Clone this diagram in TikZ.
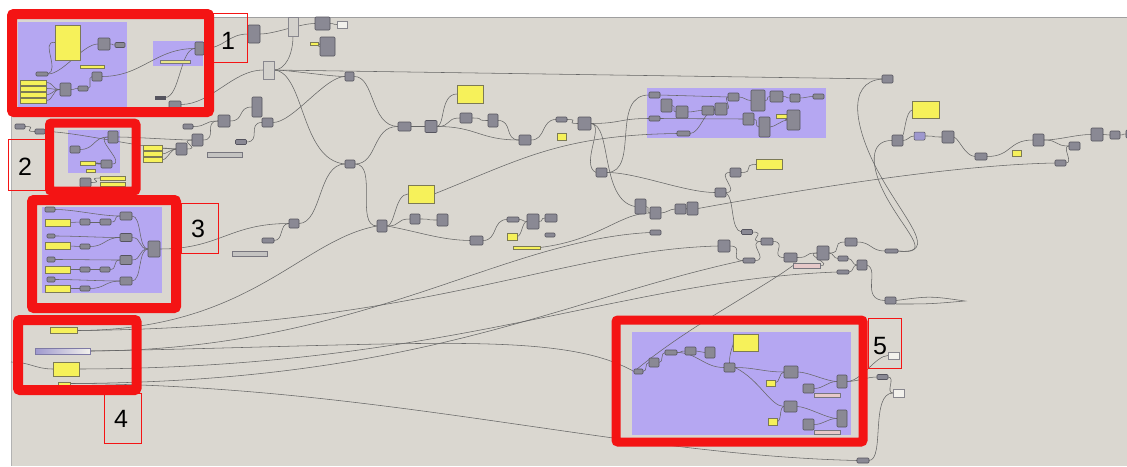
\documentclass[tikz,border=0pt]{standalone}
\usepackage{fontspec}
\setmainfont{Liberation Sans}
\definecolor{canvasc}{HTML}{DAD7D0}
\definecolor{grpc}{HTML}{B5A7F2}
\definecolor{compf}{HTML}{8A8994}
\definecolor{compd}{HTML}{55545E}
\definecolor{yf}{HTML}{F6F15A}
\definecolor{yd}{HTML}{7C7A55}
\definecolor{palef}{HTML}{D3D1CC}
\definecolor{whitef}{HTML}{F2F1EC}
\definecolor{lavf}{HTML}{9E98CE}
\definecolor{pinkf}{HTML}{E6C9C9}
\definecolor{wirec}{HTML}{666666}
\definecolor{redc}{HTML}{F41414}
\pgfdeclarelayer{bg}
\pgfdeclarelayer{wires}
\pgfsetlayers{bg,wires,main}
\newcommand{\GHnode}[6]{\node[#1,minimum width=#5pt,minimum height=#6pt] (#2) at (#3,#4) {};}
\newcommand{\GHwire}[3][15]{\draw[wire] (#2.east) .. controls +(#1,0) and +(-#1,0) .. (#3.west);}
\begin{document}
\begin{tikzpicture}[x=1pt,y=-1pt,
  comp/.style={draw=compd, fill=compf, line width=0.6pt, rounded corners=1pt, inner sep=0pt, outer sep=0pt},
  ynode/.style={draw=yd, fill=yf, line width=0.5pt, inner sep=0pt, outer sep=0pt},
  pale/.style={draw=compd!70, fill=palef, line width=0.5pt, inner sep=0pt, outer sep=0pt},
  whitebox/.style={draw=compd!70, fill=whitef, line width=0.5pt, inner sep=0pt, outer sep=0pt},
  lav/.style={draw=compd, fill=lavf, line width=0.5pt, rounded corners=1pt, inner sep=0pt, outer sep=0pt},
  pinkbar/.style={draw=compd!80, fill=pinkf, line width=0.5pt, inner sep=0pt, outer sep=0pt},
  graybar/.style={draw=compd!80, fill=palef!80!compf, line width=0.5pt, inner sep=0pt, outer sep=0pt},
  lavbar/.style={draw=lavf!80!black, left color=lavf, right color=whitef, line width=0.5pt, inner sep=0pt, outer sep=0pt},
  darkbar/.style={draw=compd, fill=compd, inner sep=0pt, outer sep=0pt},
  paley/.style={draw=compd!80, fill=yf!60!palef, line width=0.5pt, inner sep=0pt, outer sep=0pt},
  wire/.style={draw=wirec, line width=0.55pt},
  redbox/.style={draw=redc, line width=10pt, rounded corners=2pt},
  lblbox/.style={draw=redc, line width=0.8pt},
  lbltext/.style={text=black, inner sep=0pt, font=\fontsize{25}{25}\selectfont}
]
\useasboundingbox (0,0) rectangle (1127,466);
\begin{pgfonlayer}{bg}
\fill[white] (0,0) rectangle (1127,466);
\fill[canvasc] (11,17) rectangle (1127,466);
\draw[gray!75, line width=0.9pt] (11,17) -- (1127,17);
\draw[gray!60, line width=0.7pt] (11,17) -- (11,466);
\fill[grpc] (18,22) rectangle (127,107);
\fill[grpc] (153,41) rectangle (203,66);
\fill[grpc] (68,130) rectangle (120,173);
\fill[grpc] (42,207) rectangle (162,293);
\fill[grpc] (647,88) rectangle (826,138);
\fill[grpc] (632,332) rectangle (851,435);
\end{pgfonlayer}

% ---------- box 1 ----------
\GHnode{ynode}{a1}{67.5}{42.5}{25}{35}
\GHnode{comp}{a2}{104}{44}{12}{12}
\GHnode{comp}{a3}{120}{45}{10}{5}
\GHnode{ynode}{a4}{92}{66.5}{24}{3}
\GHnode{comp}{a5}{97}{76.5}{10}{9}
\GHnode{comp}{a6}{65.5}{89.5}{11}{13}
\GHnode{comp}{a7}{83}{88.5}{10}{5}
\GHnode{comp}{a8}{42}{74}{12}{4}
\GHnode{ynode}{a9}{33}{82.5}{26}{4.5}
\GHnode{ynode}{a10}{33}{88.5}{26}{4.5}
\GHnode{ynode}{a11}{33}{94.5}{26}{4.5}
\GHnode{ynode}{a12}{33}{100.5}{26}{4.5}
\GHnode{comp}{a13}{199.5}{48.5}{9}{13}
\GHnode{paley}{a14}{175}{61.5}{30}{3}
\GHnode{comp}{a15}{175}{104.5}{12}{7}
\GHnode{darkbar}{a16}{160}{97.5}{10}{3}

% ---------- top ----------
\GHnode{comp}{t1}{254}{34}{12}{18}
\GHnode{pale}{t2}{293}{26.5}{10}{19}
\GHnode{comp}{t3}{322.5}{23.5}{15}{13}
\GHnode{whitebox}{t4}{342}{24.5}{10}{7}
\GHnode{ynode}{t5}{314}{43.5}{8}{3}
\GHnode{comp}{t6}{327.5}{46.5}{15}{19}
\GHnode{pale}{t7}{268.5}{70}{11}{18}
\GHnode{comp}{t8}{349.5}{76.5}{9}{9}
\GHnode{comp}{t9}{887.5}{79}{11}{8}
\GHnode{comp}{t10}{257}{107}{10}{20}
\GHnode{comp}{t11}{267.5}{122.5}{11}{9}
\GHnode{comp}{t12}{224}{121}{12}{12}
\GHnode{comp}{t13}{197.5}{140}{11}{12}
\GHnode{comp}{t14}{181.5}{149}{11}{12}
\GHnode{ynode}{t15}{152.5}{148}{19}{5}
\GHnode{ynode}{t16}{152.5}{154}{19}{5}
\GHnode{ynode}{t17}{152.5}{160}{19}{5}
\GHnode{comp}{t18}{241}{142}{11}{5}
\GHnode{graybar}{t19}{224.5}{155}{35}{5}
\GHnode{comp}{t20}{188}{126.5}{10}{5}
\GHnode{comp}{t21}{350}{164}{10}{8}
\GHnode{comp}{t22}{20}{126.5}{10}{5}
\GHnode{comp}{t23}{40}{131.5}{10}{5}

% ---------- box 2 ----------
\GHnode{comp}{b1}{113}{137}{10}{12}
\GHnode{comp}{b2}{75}{149.5}{10}{7}
\GHnode{ynode}{b3}{87.5}{163}{15}{4}
\GHnode{ynode}{b4}{90.5}{170.5}{9}{3}
\GHnode{comp}{b5}{106.5}{164}{11}{8}
\GHnode{comp}{b6}{85.5}{182.5}{11}{9}
\GHnode{ynode}{b7}{112.5}{178}{25}{4}
\GHnode{ynode}{b8}{112.5}{184}{25}{4}

% ---------- box 3 ----------
\GHnode{comp}{c1}{50}{209.5}{10}{5}
\GHnode{ynode}{c2}{57.5}{222.5}{25}{7}
\GHnode{comp}{c3}{85}{222}{10}{6}
\GHnode{comp}{c4}{105.5}{222}{11}{6}
\GHnode{comp}{c5}{126}{216}{12}{8}
\GHnode{comp}{c6}{51}{236}{8}{4}
\GHnode{ynode}{c7}{57.5}{246}{25}{7}
\GHnode{comp}{c8}{85}{246.5}{10}{5}
\GHnode{comp}{c9}{126}{237.5}{12}{8}
\GHnode{comp}{c10}{154}{249}{12}{16}
\GHnode{comp}{c11}{51}{259.5}{8}{5}
\GHnode{ynode}{c12}{57.5}{269.5}{25}{7}
\GHnode{comp}{c13}{85}{269.5}{10}{5}
\GHnode{comp}{c14}{105}{269.5}{10}{5}
\GHnode{comp}{c15}{126}{260}{12}{9}
\GHnode{comp}{c16}{51}{279.5}{8}{5}
\GHnode{ynode}{c17}{57.5}{288.5}{25}{7}
\GHnode{comp}{c18}{85}{288.5}{10}{5}
\GHnode{comp}{c19}{126}{281}{12}{8}
\GHnode{comp}{c20}{294}{223.5}{10}{9}
\GHnode{comp}{c21}{268}{240.5}{12}{5}
\GHnode{graybar}{c22}{249.5}{254}{35}{5}

% ---------- box 4 ----------
\GHnode{ynode}{d1}{63.5}{330.5}{27}{6}
\GHnode{lavbar}{d2}{62.5}{351}{55}{6}
\GHnode{ynode}{d3}{66}{369}{26}{14}
\GHnode{ynode}{d4}{64}{383.5}{12}{3}

% ---------- middle ----------
\GHnode{comp}{m1}{404.5}{126.5}{13}{9}
\GHnode{comp}{m2}{431}{126.5}{12}{12}
\GHnode{ynode}{m3}{470}{94}{26}{18}
\GHnode{comp}{m4}{466}{118}{12}{10}
\GHnode{comp}{m5}{493}{120.5}{10}{13}
\GHnode{comp}{m6}{525}{140}{12}{10}
\GHnode{comp}{m7}{561.5}{119.5}{11}{5}
\GHnode{ynode}{m8}{561.5}{136.5}{9}{7}
\GHnode{comp}{m9}{584.5}{123.5}{13}{13}
\GHnode{comp}{p1}{654.5}{95}{11}{6}
\GHnode{comp}{p2}{666.5}{105.5}{11}{13}
\GHnode{comp}{p3}{682}{112}{12}{12}
\GHnode{comp}{p4}{708}{110.5}{12}{9}
\GHnode{comp}{p5}{721}{109}{12}{12}
\GHnode{comp}{p6}{733.5}{97}{11}{8}
\GHnode{comp}{p7}{758}{100.5}{14}{21}
\GHnode{comp}{p8}{776.5}{96.5}{13}{11}
\GHnode{comp}{p9}{795}{98}{10}{8}
\GHnode{comp}{p10}{818.5}{96.5}{11}{5}
\GHnode{comp}{p11}{748.5}{119}{11}{12}
\GHnode{comp}{p12}{764.5}{127}{11}{20}
\GHnode{ynode}{p13}{782}{116.5}{12}{4}
\GHnode{comp}{p14}{793.5}{120}{13}{20}
\GHnode{comp}{p15}{654.5}{118.5}{11}{5}
\GHnode{comp}{p16}{683.5}{133.5}{13}{5}
\GHnode{comp}{n1}{601.5}{172.5}{11}{9}
\GHnode{comp}{n2}{640.5}{206.5}{11}{15}
\GHnode{comp}{n3}{655.5}{213}{11}{12}
\GHnode{comp}{n4}{680.5}{209}{11}{10}
\GHnode{comp}{n5}{692.5}{208.5}{11}{13}
\GHnode{comp}{n6}{655.5}{232.5}{11}{5}
\GHnode{comp}{n7}{720.5}{192.5}{11}{9}
\GHnode{comp}{n8}{735.5}{172.5}{11}{9}
\GHnode{ynode}{n9}{769}{164.5}{26}{10}
\GHnode{comp}{n10}{747}{232}{11}{5}

% ---------- lower middle ----------
\GHnode{comp}{l1}{382}{226}{10}{12}
\GHnode{ynode}{l2}{421}{194}{26}{18}
\GHnode{comp}{l3}{415}{219}{10}{10}
\GHnode{comp}{l4}{442.5}{220}{11}{12}
\GHnode{comp}{l5}{476.5}{240.5}{13}{9}
\GHnode{comp}{l6}{513}{219.5}{12}{5}
\GHnode{comp}{l7}{533}{221.5}{12}{15}
\GHnode{comp}{l8}{551}{218}{12}{8}
\GHnode{comp}{l9}{550}{235}{10}{4}
\GHnode{ynode}{l10}{512}{236.5}{10}{7}
\GHnode{ynode}{l11}{526.5}{247.5}{27}{3}

% ---------- lower right ----------
\GHnode{comp}{r1}{724}{246}{12}{12}
\GHnode{comp}{r2}{749}{260.5}{12}{5}
\GHnode{comp}{r3}{767}{241.5}{12}{7}
\GHnode{comp}{r4}{790.5}{257.5}{13}{9}
\GHnode{pinkbar}{r5}{806.5}{265.5}{27}{5}
\GHnode{comp}{r6}{823}{253}{12}{14}
\GHnode{comp}{r7}{851}{242}{12}{8}
\GHnode{comp}{r8}{843}{258.5}{10}{5}
\GHnode{comp}{r9}{862}{265}{10}{10}
\GHnode{comp}{r10}{843}{272}{12}{4}
\GHnode{comp}{r11}{891.5}{251}{13}{4}
\GHnode{comp}{r12}{890.5}{300.5}{11}{7}

% ---------- right ----------
\GHnode{ynode}{q0}{925.5}{110}{27}{17}
\GHnode{comp}{q1}{897.5}{140.5}{11}{11}
\GHnode{lav}{q2}{919.5}{136}{11}{8}
\GHnode{comp}{q3}{948}{137}{12}{12}
\GHnode{comp}{q4}{981}{156.5}{12}{7}
\GHnode{ynode}{q5}{1016.5}{153.5}{9}{6}
\GHnode{comp}{q6}{1038.5}{140}{11}{12}
\GHnode{comp}{q7}{1074.5}{146}{11}{8}
\GHnode{comp}{q8}{1097}{134.5}{12}{13}
\GHnode{comp}{q9}{1115}{135}{10}{8}
\GHnode{comp}{q10}{1060.5}{163}{11}{6}
\GHnode{comp}{q11}{1130}{134}{8}{8}

% ---------- box 5 ----------
\GHnode{comp}{f1}{638.5}{371.5}{9}{5}
\GHnode{comp}{f2}{654}{362.5}{10}{9}
\GHnode{comp}{f3}{671}{352.5}{12}{5}
\GHnode{comp}{f4}{690.5}{351}{11}{8}
\GHnode{comp}{f5}{710}{352.5}{10}{11}
\GHnode{ynode}{f6}{745.5}{342.5}{25}{17}
\GHnode{comp}{f7}{729.5}{367.5}{11}{9}
\GHnode{comp}{f8}{791}{372}{14}{12}
\GHnode{ynode}{f9}{770.5}{383}{9}{6}
\GHnode{comp}{f10}{808.5}{388.5}{11}{9}
\GHnode{pinkbar}{f11}{827}{395}{26}{4}
\GHnode{comp}{f12}{842}{381.5}{10}{13}
\GHnode{comp}{f13}{790.5}{406.5}{13}{11}
\GHnode{ynode}{f14}{772.5}{421.5}{9}{7}
\GHnode{comp}{f15}{808.5}{424.5}{11}{11}
\GHnode{pinkbar}{f16}{827}{432}{26}{4}
\GHnode{comp}{f17}{842}{418.5}{10}{17}
\GHnode{whitebox}{o1}{893.5}{355.5}{11}{7}
\GHnode{comp}{o2}{882.5}{377}{11}{5}
\GHnode{whitebox}{o3}{898.5}{393}{11}{8}
\GHnode{comp}{o4}{863}{460.5}{12}{5}

\coordinate (e1) at (11,362);
\coordinate (sp) at (965,301);

\begin{pgfonlayer}{wires}
% box 1
\GHwire{a8}{a2}
\draw[wire] (a8.east) .. controls (60,70) and (40,40) .. (a1.west);
\GHwire[8]{a9}{a6} \GHwire[8]{a10}{a6} \GHwire[8]{a11}{a6} \GHwire[8]{a12}{a6}
\GHwire[5]{a6}{a7} \GHwire[5]{a7}{a5} \GHwire[40]{a5}{a13}
\GHwire[5]{a2}{a3} \GHwire[15]{a16}{a13} \GHwire[20]{a13}{t1}
\GHwire[30]{a15}{t7}
% top
\GHwire{t1}{t3} \GHwire[5]{t3}{t4} \GHwire[5]{t5}{t6}
\draw[wire] (t2.south) .. controls (293,55) and (285,70) .. (t7.east);
\draw[wire] (t7.east) -- (t9.west);
\GHwire{t7}{t8}
% loops
\draw[wire] (t7.east) .. controls (305,72) and (300,160) .. (t21.west);
\draw[wire] (t8.east) .. controls (375,76) and (370,126) .. (m1.west);
\draw[wire] (t21.east) .. controls (378,164) and (372,126) .. (m1.west);
\draw[wire] (c20.east) .. controls (322,223) and (318,164) .. (t21.west);
\draw[wire] (t21.east) .. controls (378,164) and (355,226) .. (l1.west);
\GHwire{t12}{t10} \GHwire[20]{t11}{t8} \GHwire{t20}{t12}
\GHwire{t14}{t13} \GHwire[5]{t15}{t14} \GHwire[5]{t16}{t14} \GHwire[5]{t17}{t14}
\GHwire{t22}{t23} \GHwire[30]{t23}{t14} \GHwire{b1}{t13} \GHwire{t13}{t12}
\GHwire{t18}{t11}
% box 2
\GHwire{b2}{b1} \GHwire{b3}{b5} \GHwire{b5}{b1} \GHwire{b6}{b7}
% box 3
\GHwire[20]{c1}{c5} \GHwire[5]{c2}{c3} \GHwire[5]{c3}{c4} \GHwire[8]{c4}{c5}
\GHwire[20]{c6}{c9} \GHwire[5]{c7}{c8} \GHwire[15]{c8}{c9}
\GHwire[20]{c11}{c15} \GHwire[5]{c12}{c13} \GHwire[5]{c13}{c14} \GHwire[8]{c14}{c15}
\GHwire[20]{c16}{c19} \GHwire[5]{c17}{c18} \GHwire[15]{c18}{c19}
\GHwire[10]{c5}{c10} \GHwire[10]{c9}{c10} \GHwire[10]{c15}{c10} \GHwire[10]{c19}{c10}
\GHwire[60]{c10}{c20} \GHwire[10]{c21}{c20}
% box 4 fan
\draw[wire] (d1.east) .. controls (250,330) and (300,240) .. (l1.west);
\draw[wire] (d1.east) .. controls (420,328) and (560,250) .. (r1.west);
\draw[wire] (d2.east) .. controls (360,350) and (500,240) .. (n6.west);
\draw[wire] (d2.east) .. controls (420,345) and (560,330) .. (f1.west);
\draw[wire] (d3.east) .. controls (450,368) and (620,280) .. (r10.west);
\draw[wire] (d4.east) .. controls (380,385) and (620,455) .. (o4.west);
\draw[wire] (d4.east) .. controls (420,382) and (560,300) .. (r2.west);
\draw[wire] (e1) .. controls (30,362) and (35,369) .. (d3.west);
% middle
\GHwire{m1}{m2} \GHwire{m2}{m4}
\draw[wire] (m2.east) .. controls (445,126) and (440,94) .. (m3.west);
\GHwire{m4}{m5} \GHwire[40]{m2}{m6} \GHwire{m5}{m6} \GHwire{m6}{m7} \GHwire{m7}{m9}
\GHwire[30]{m9}{p15}
\draw[wire] (m9.east) .. controls (612,124) and (600,200) .. (n2.west);
\draw[wire] (m9.east) .. controls (605,125) and (580,165) .. (n1.west);
\draw[wire] (n1.east) .. controls (640,172) and (610,95) .. (p1.west);
\draw[wire] (l2.east) .. controls (520,160) and (560,135) .. (p16.west);
\draw[wire] (p1.east) -- (p6.west);
\GHwire[5]{p2}{p3} \GHwire[5]{p3}{p4} \GHwire[5]{p4}{p5} \GHwire[5]{p5}{p6}
\GHwire[5]{p6}{p7} \GHwire[5]{p7}{p8} \GHwire[5]{p8}{p9} \GHwire[5]{p9}{p10}
\draw[wire] (p15.east) -- (p11.west);
\GHwire[5]{p11}{p12} \GHwire[5]{p12}{p14} \GHwire[5]{p13}{p14} \GHwire[10]{p16}{p5}
\GHwire[30]{n1}{n7} \GHwire{n7}{n8} \GHwire{n8}{n9}
\GHwire[5]{n2}{n3} \GHwire[5]{n3}{n4} \GHwire[5]{n4}{n5}
\draw[wire] (n5.east) .. controls (800,190) and (950,165) .. (q10.west);
\draw[wire] (n7.east) .. controls (735,200) and (730,230) .. (n10.west);
\GHwire{n10}{r3}
% lower middle
\GHwire{l1}{l3}
\draw[wire] (l1.east) .. controls (395,226) and (395,194) .. (l2.west);
\GHwire{l3}{l4}
\draw[wire] (l1.east) .. controls (420,232) and (440,240) .. (l5.west);
\GHwire{l5}{l6} \GHwire[5]{l6}{l7} \GHwire[5]{l7}{l8} \GHwire[5]{l10}{l7}
\draw[wire] (l11.east) .. controls (600,240) and (620,213) .. (n3.west);
% lower right
\GHwire{r1}{r2} \GHwire{r2}{r3} \GHwire{r3}{r4} \GHwire{r4}{r6} \GHwire{r5}{r6}
\GHwire{r6}{r7} \GHwire[5]{r6}{r8} \GHwire[5]{r8}{r9} \GHwire[5]{r10}{r9} \GHwire{r7}{r11}
\draw[wire] (r9.east) .. controls (880,270) and (860,300) .. (r12.west);
\draw[wire] (r12.east) .. controls (930,296) .. (sp) .. controls (930,304) .. (r12.south east);
\draw[wire] (f1.west) .. controls (690,325) and (760,290) .. (r5.west);
% right
\draw[wire] (t9.west) .. controls (845,82) and (855,130) .. (880,175) .. controls (905,220) and (940,255) .. (r11.east);
\draw[wire] (q1.west) .. controls (870,140) and (868,165) .. (888,200) .. controls (908,235) and (932,255) .. (r11.east);
\draw[wire] (q0.west) .. controls (906,112) and (905,130) .. (q1.north east);
\GHwire[5]{q1}{q2} \GHwire{q2}{q3}
\draw[wire] (q3.east) .. controls (960,140) and (965,156) .. (q4.west);
\GHwire[25]{q4}{q6} \GHwire{q6}{q7} \GHwire{q6}{q8} \GHwire[5]{q8}{q9} \GHwire[5]{q9}{q11}
\GHwire[8]{q10}{q7}
% box 5
\GHwire[5]{f1}{f2} \GHwire[5]{f2}{f3} \GHwire[5]{f3}{f4} \GHwire[5]{f4}{f5}
\GHwire[20]{f3}{f7}
\draw[wire] (f7.north) .. controls (729,352) and (735,342) .. (f6.west);
\GHwire[20]{f7}{f8} \GHwire[5]{f9}{f8} \GHwire[10]{f8}{f12} \GHwire[10]{f10}{f12}
\draw[wire] (f7.east) .. controls (760,380) and (770,406) .. (f13.west);
\GHwire[5]{f14}{f13} \GHwire[10]{f13}{f17} \GHwire[10]{f15}{f17}
\draw[wire] (f12.east) .. controls (862,381) and (875,356) .. (o1.west);
\GHwire[10]{f12}{o2}
\GHwire[8]{o2}{o3}
\draw[wire] (o4.east) .. controls (885,460) and (870,393) .. (o3.west);
\end{pgfonlayer}

% ---------- red frames ----------
\draw[redbox] (12,14) rectangle (209,112);
\draw[redbox, line width=9pt] (49.5,123) rectangle (136,191);
\draw[redbox] (32,200) rectangle (176,308);
\draw[redbox] (18,320) rectangle (136.5,390);
\draw[redbox, line width=9pt] (616,320) rectangle (863,442);

\draw[lblbox] (213,13) rectangle (247,62);
\node[lbltext] (L1) at (228,41) {1};
\draw[lblbox] (8,139) rectangle (45,190);
\node[lbltext] (L2) at (25,167) {2};
\draw[lblbox] (181,203) rectangle (218,253);
\node[lbltext] (L3) at (198,229) {3};
\draw[lblbox] (104,393) rectangle (141,443);
\node[lbltext] (L4) at (121,419) {4};
\draw[lblbox] (868,318) rectangle (901,368);
\node[lbltext] (L5) at (880,346) {5};
\end{tikzpicture}
\end{document}
